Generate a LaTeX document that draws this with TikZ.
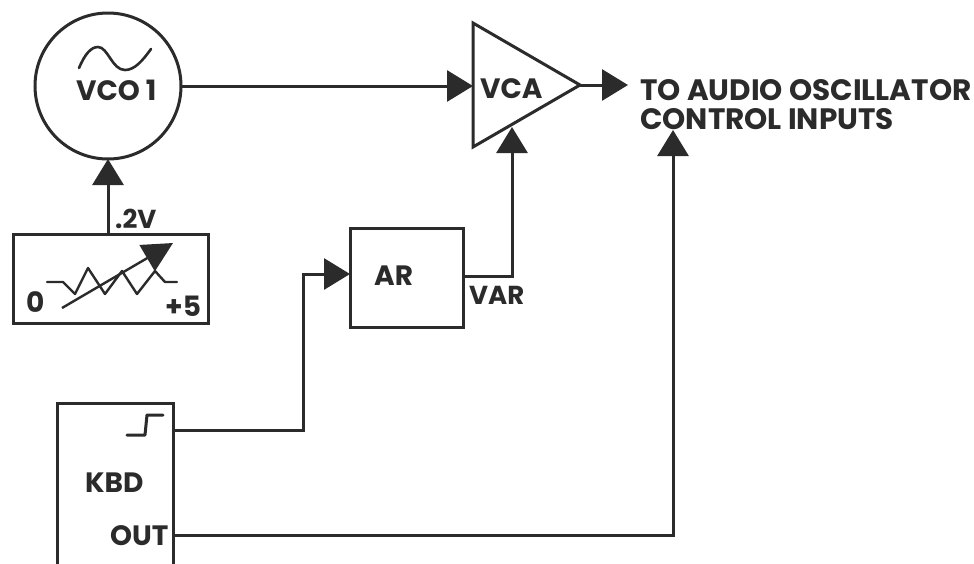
\documentclass[tikz,border=0pt]{standalone}
\usepackage{fontspec}
\setmainfont{Poppins}
\usetikzlibrary{arrows.meta,shapes.geometric}
\definecolor{ink}{HTML}{2B2B2B}
\tikzset{
  block/.style={draw=ink,line width=3pt,fill=none,inner sep=0pt,outer sep=0pt,rectangle},
  conn/.style={draw=ink,line width=3pt},
  flow/.style={conn,-{Triangle[length=26pt,width=31pt]}},
  lab/.style={anchor=base west,inner sep=0pt,text=ink,font=\fontsize{28}{28}\selectfont\bfseries},
  labs/.style={lab,font=\fontsize{26}{26}\selectfont\bfseries},
  labl/.style={lab,text height=20pt,text depth=0pt,font=\fontsize{29.5}{29.5}\selectfont\bfseries},
  thin glyph/.style={draw=ink,line width=3pt,line join=round,line cap=round}
}
\begin{document}
\begin{tikzpicture}[x=1pt,y=-1pt]
\useasboundingbox (0,0) rectangle (974,563);
\fill[white] (0,0) rectangle (974,563);
% blocks
\node[block,circle,minimum size=146pt] (vco) at (108,86) {};
\node[block,minimum width=195pt,minimum height=89pt] (pot) at (110.5,278.5) {};
\node[block,minimum width=113pt,minimum height=99pt] (ar) at (406.5,277.5) {};
\draw[conn,line join=miter] (57,570) -- (57,403) -- (173,403) -- (173,570);
\node[inner sep=0pt,outer sep=0pt,minimum width=116pt,minimum height=170pt] (kbd) at (115,488) {};
\node[draw=ink,line width=3pt,inner sep=0pt,outer sep=0pt,isosceles triangle,isosceles triangle apex angle=60,isosceles triangle stretches,minimum width=124pt,minimum height=107pt,anchor=apex] (vca) at (580,85) {};
% labels
\node[lab] (lvco) at (76,100) {VCO 1};
\node[labs] (lv) at (115,228) {.2V};
\node[lab] (lzero) at (26,312) {0};
\node[lab] (lfive) at (165,316) {+5};
\node[lab] (lkbd) at (85,492) {KBD};
\node[lab] (lout) at (110,545) {OUT};
\node[lab] (lar) at (374,285) {AR};
\node[labs] (lvar) at (469,304) {VAR};
\node[lab] (lvca) at (480,98) {VCA};
\node[labl] (lto) at (640,100) {TO AUDIO OSCILLATOR};
\node[labl] (lctl) at (640,129) {CONTROL INPUTS};
% glyphs
\draw[thin glyph,line width=2.6pt] (79,68) .. controls (85,54) and (91,47) .. (98,47) .. controls (108,47) and (112,70) .. (125,70) .. controls (135,70) and (143,60) .. (151,49);
\draw[thin glyph,line width=2.4pt] (47,282) -- (63,282) -- (75,294) -- (88,268) -- (105,294) -- (122,271) -- (137,294) -- (155,271) -- (165,282) -- (177,282);
\draw[draw=ink,line width=2.4pt,-{Triangle[length=30pt,width=30pt]}] (62,308) -- (173,243);
\draw[thin glyph] (127,435) -- (145,435) -- (147,415) -- (163,415);
% connectors
\coordinate (c1) at (303,430);
\coordinate (c1a) at (173,430);
\coordinate (c2) at (303,274);
\coordinate (c3a) at (463,276);
\coordinate (c3) at (512,276);
\coordinate (c3t) at (512,127);
\coordinate (c4a) at (173,535);
\coordinate (c4) at (673,535);
\coordinate (c4t) at (673,130);
\coordinate (vcoin) at (473,86);
\coordinate (outt) at (628,85);
\draw[flow] (pot.north -| vco.south) -- (vco.south);
\draw[flow] (vco.east) -- (vcoin);
\draw[flow] (vca.apex) -- (outt);
\draw[flow] (c1a) -- (c1) -- (c2) -- (ar.west |- c2);
\draw[flow] (c3a) -- (c3) -- (c3t);
\draw[flow] (c4a) -- (c4) -- (c4t);
\end{tikzpicture}
\end{document}
